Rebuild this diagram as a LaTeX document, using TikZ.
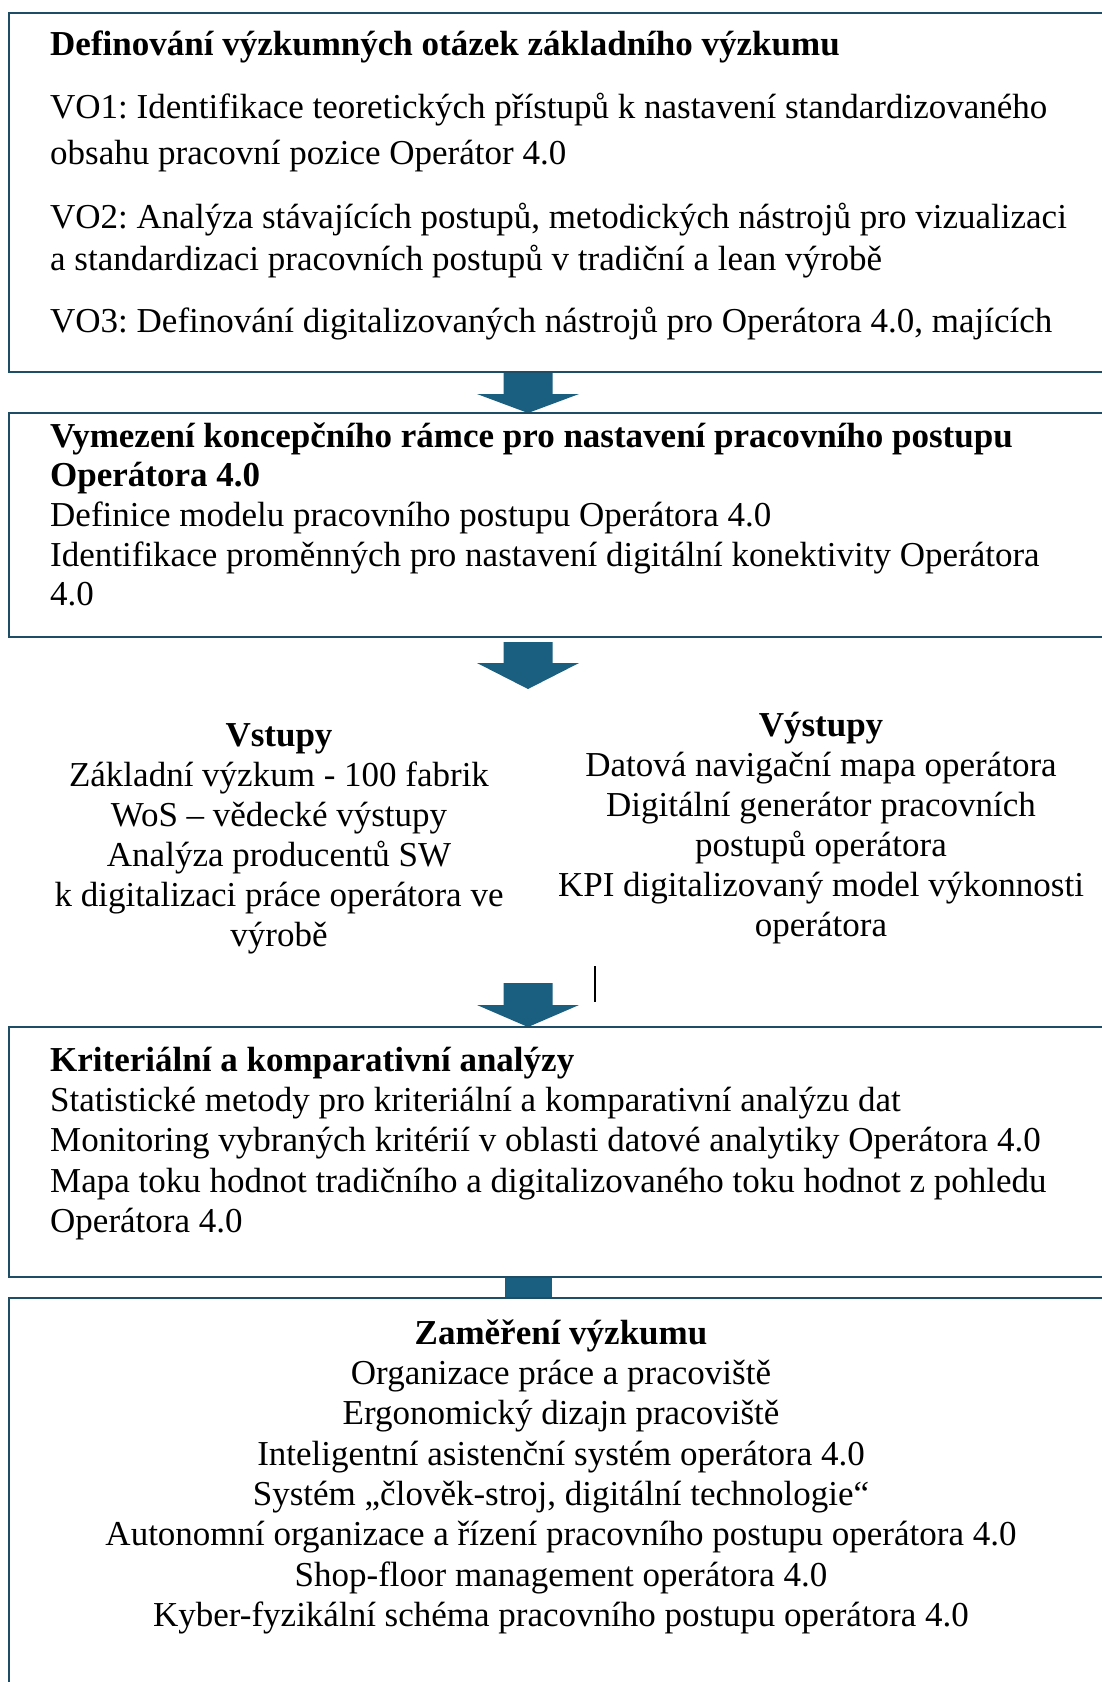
\documentclass[tikz,border=0pt]{standalone}
\usepackage{fontspec}
\setmainfont{Liberation Serif}
\usetikzlibrary{calc}
\definecolor{boxline}{HTML}{1E4D66}
\definecolor{arrowfill}{HTML}{1A5E80}
\frenchspacing
\newcommand\barrow[3]{%
  \fill[arrowfill] let \p1=(#1), \p2=(#2) in
   (\x1-24.5pt,\y1) -- (\x1+24.5pt,\y1) -- (\x1+24.5pt,\y2+#3) -- (\x1+51pt,\y2+#3)
   -- (\x2,\y2) -- (\x1-51pt,\y2+#3) -- (\x1-24.5pt,\y2+#3) -- cycle;}
\begin{document}
\begin{tikzpicture}[x=1pt,y=-1pt,
  txt/.style={font=\fontsize{35pt}{40pt}\selectfont\frenchspacing, inner sep=0pt, text=black},
  frame/.style={draw=boxline, line width=2.6pt, outer sep=0pt, inner sep=0pt, anchor=north west, minimum width=1116pt}]
\useasboundingbox (0,0) rectangle (1102,1682);
\fill[white] (0,0) rectangle (1102,1682);
\clip (0,0) rectangle (1102,1682);
\coordinate (ax) at (528,0);
% boxes (drawn as frames)
\node[frame, minimum height=359pt] (b1) at (9,13) {};
\node[frame, minimum height=224pt] (b2) at (9,413) {};
\node[frame, minimum height=250pt] (b4) at (9,1027) {};
\node[frame, minimum height=430pt] (b5) at (9,1298) {};
% arrows
\coordinate (a2s) at (528,642);
\coordinate (a2t) at (528,689);
\coordinate (a3s) at (528,983);
\barrow{b1.south -| ax}{b2.north -| ax}{19pt}
\barrow{a2s}{a2t}{26pt}
\barrow{a3s}{b4.north -| ax}{22pt}
\fill[arrowfill] ($(b4.south -| ax)+(-23.5,0)$) rectangle ($(b5.north -| ax)+(23.5,0)$);
% redraw frames on top
\foreach \b in {b1,b2,b4,b5} \draw[boxline, line width=2.6pt] (\b.north west) rectangle (\b.south east);
% box 1
\node[txt,anchor=base west] (t10) at (50,55) {\bfseries Definování výzkumných otázek základního výzkumu};
\node[txt,anchor=base west] (t11) at (50,118) {VO1: Identifikace teoretických přístupů k nastavení standardizovaného};
\node[txt,anchor=base west] (t12) at (50,164) {obsahu pracovní pozice Operátor 4.0};
\node[txt,anchor=base west] (t13) at (50,228) {VO2: Analýza stávajících postupů, metodických nástrojů pro vizualizaci};
\node[txt,anchor=base west] (t14) at (50,270) {a standardizaci pracovních postupů v tradiční a lean výrobě};
\node[txt,anchor=base west] (t15) at (50,332) {VO3: Definování digitalizovaných nástrojů pro Operátora 4.0, majících};
% box 2
\node[txt,anchor=base west] (t20) at (50,447) {\bfseries Vymezení koncepčního rámce pro nastavení pracovního postupu};
\node[txt,anchor=base west] (t21) at (50,486) {\bfseries Operátora 4.0};
\node[txt,anchor=base west] (t22) at (50,526) {Definice modelu pracovního postupu Operátora 4.0};
\node[txt,anchor=base west] (t23) at (50,566) {Identifikace proměnných pro nastavení digitální konektivity Operátora};
\node[txt,anchor=base west] (t24) at (50,605) {4.0};
% inputs
\node[txt,anchor=base] (in0) at (279,746) {\bfseries Vstupy};
\node[txt,anchor=base] (in1) at (279,786) {Základní výzkum - 100 fabrik};
\node[txt,anchor=base] (in2) at (279,826) {WoS – vědecké výstupy};
\node[txt,anchor=base] (in3) at (279,866) {Analýza producentů SW};
\node[txt,anchor=base] (in4) at (279,906) {k digitalizaci práce operátora ve};
\node[txt,anchor=base] (in5) at (279,946) {výrobě};
% outputs
\node[txt,anchor=base] (out0) at (821,736) {\bfseries Výstupy};
\node[txt,anchor=base] (out1) at (821,776) {Datová navigační mapa operátora};
\node[txt,anchor=base] (out2) at (821,816) {Digitální generátor pracovních};
\node[txt,anchor=base] (out3) at (821,856) {postupů operátora};
\node[txt,anchor=base] (out4) at (821,896) {KPI digitalizovaný model výkonnosti};
\node[txt,anchor=base] (out5) at (821,936) {operátora};
% cursor mark
\draw[black, line width=2pt] (595,966) -- (595,1002);
% box 4
\node[txt,anchor=base west] (t40) at (50,1071) {\bfseries Kriteriální a komparativní analýzy};
\node[txt,anchor=base west] (t41) at (50,1111) {Statistické metody pro kriteriální a komparativní analýzu dat};
\node[txt,anchor=base west] (t42) at (50,1151) {Monitoring vybraných kritérií v oblasti datové analytiky Operátora 4.0};
\node[txt,anchor=base west] (t43) at (50,1192) {Mapa toku hodnot tradičního a digitalizovaného toku hodnot z pohledu};
\node[txt,anchor=base west] (t44) at (50,1232) {Operátora 4.0};
% box 5
\node[txt,anchor=base] (t50) at (561,1344) {\bfseries Zaměření výzkumu};
\node[txt,anchor=base] (t51) at (561,1384) {Organizace práce a pracoviště};
\node[txt,anchor=base] (t52) at (561,1424) {Ergonomický dizajn pracoviště};
\node[txt,anchor=base] (t53) at (561,1465) {Inteligentní asistenční systém operátora 4.0};
\node[txt,anchor=base] (t54) at (561,1505) {Systém „člověk-stroj, digitální technologie“};
\node[txt,anchor=base] (t55) at (561,1545) {Autonomní organizace a řízení pracovního postupu operátora 4.0};
\node[txt,anchor=base] (t56) at (561,1586) {Shop-floor management operátora 4.0};
\node[txt,anchor=base] (t57) at (561,1626) {Kyber-fyzikální schéma pracovního postupu operátora 4.0};
\end{tikzpicture}
\end{document}
